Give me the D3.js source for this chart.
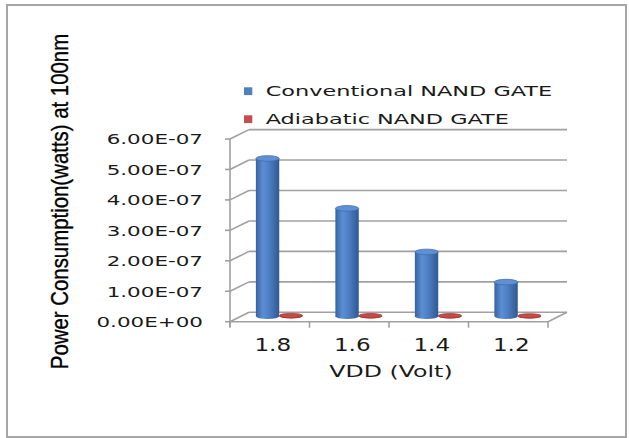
<!DOCTYPE html>
<html>
<head>
<meta charset="utf-8">
<script src="https://cdn.jsdelivr.net/npm/d3@7"></script>
<style>
  html, body { margin: 0; padding: 0; background: #fff; }
  svg { display: block; }
</style>
</head>
<body>
<svg id="chart" width="629" height="438"></svg>
<script>
// Supply voltage categories (x axis)
const categories = ["1.8", "1.6", "1.4", "1.2"];
// Power consumption in watts at 100nm
const conventional = [5.18e-7, 3.54e-7, 2.11e-7, 1.12e-7];
const adiabatic = [2.0e-9, 1.6e-9, 1.3e-9, 1.0e-9];
const seriesNames = ["Conventional NAND GATE", "Adiabatic NAND GATE"];
const yTickValues = [0, 1e-7, 2e-7, 3e-7, 4e-7, 5e-7, 6e-7];
const yTickLabels = ["0.00E+00", "1.00E-07", "2.00E-07", "3.00E-07", "4.00E-07", "5.00E-07", "6.00E-07"];
const xTitle = "VDD (Volt)";
const yTitle = "Power Consumption(watts) at 100nm";

const series = [conventional, adiabatic];
const colors = ["#4f81bd", "#c0504d"];

const svg = d3.select("#chart");

// plot frame (front plane) and the depth offset of the back wall
const front = { left: 230, right: 548, top: 139, bottom: 321.7 };
const depth = { dx: 19, dy: -9.4 };
const barDepth = { dx: 9.5, dy: -5.5 };
const gridColor = "#a0a0a0";

const y = d3.scaleLinear().domain([0, 6e-7]).range([front.bottom, front.top]);
const x = d3.scaleBand().domain(categories).range([front.left, front.right]);
const s = d3.scaleBand().domain(d3.range(series.length)).range([0, x.bandwidth()])
  .paddingInner(0).paddingOuter(0.7);

// text placed at (tx, ty) and widened horizontally by sx
function wideText(parent, tx, ty, str, opt) {
  return parent.append("text")
    .attr("transform", `translate(${tx},${ty}) scale(${opt.sx},1)`)
    .attr("text-anchor", opt.anchor || "start")
    .attr("dy", opt.dy || null)
    .attr("font-family", opt.family || "DejaVu Sans")
    .attr("font-size", opt.size)
    .attr("fill", opt.fill || "#1a1a1a")
    .text(str);
}

// outer border
svg.append("rect")
  .attr("x", 7).attr("y", 5).attr("width", 619).attr("height", 432)
  .attr("fill", "#fff").attr("stroke", "#a6a6a6").attr("stroke-width", 2);

const defs = svg.append("defs");
const gBlue = defs.append("linearGradient").attr("id", "cylBlue")
  .attr("x1", 0).attr("x2", 1).attr("y1", 0).attr("y2", 0);
[["0%", "#38629f"], ["30%", "#5b8ed4"], ["55%", "#4f80c4"], ["100%", "#315892"]]
  .forEach(([o, c]) => gBlue.append("stop").attr("offset", o).attr("stop-color", c));
const gRed = defs.append("linearGradient").attr("id", "cylRed")
  .attr("x1", 0).attr("x2", 1).attr("y1", 0).attr("y2", 0);
[["0%", "#9e2b28"], ["35%", "#c8443f"], ["100%", "#a02c29"]]
  .forEach(([o, c]) => gRed.append("stop").attr("offset", o).attr("stop-color", c));

// walls: back gridlines and left-wall diagonals
const grid = svg.append("g").attr("stroke", gridColor).attr("stroke-width", 1.6).attr("fill", "none");
grid.selectAll("line.back").data(yTickValues).join("line")
  .attr("x1", front.left + depth.dx).attr("x2", front.right + depth.dx)
  .attr("y1", d => y(d) + depth.dy).attr("y2", d => y(d) + depth.dy);
grid.selectAll("line.side").data(yTickValues).join("line")
  .attr("x1", front.left).attr("y1", d => y(d))
  .attr("x2", front.left + depth.dx).attr("y2", d => y(d) + depth.dy);
// floor front and right edges
grid.append("line")
  .attr("x1", front.left).attr("x2", front.right)
  .attr("y1", y(0)).attr("y2", y(0));
grid.append("line")
  .attr("x1", front.right).attr("y1", y(0))
  .attr("x2", front.right + depth.dx).attr("y2", y(0) + depth.dy);
// vertical value axis
grid.append("line")
  .attr("x1", front.left).attr("x2", front.left)
  .attr("y1", y(6e-7)).attr("y2", y(0) + 5);
grid.selectAll("line.ytick").data(yTickValues).join("line")
  .attr("x1", front.left - 5).attr("x2", front.left)
  .attr("y1", d => y(d)).attr("y2", d => y(d));
// category ticks
const catEdges = categories.map(c => x(c)).concat([front.right]);
grid.selectAll("line.xtick").data(catEdges).join("line")
  .attr("x1", d => d).attr("x2", d => d)
  .attr("y1", y(0)).attr("y2", y(0) + 6);

// cylinders
const bars = svg.append("g");
categories.forEach((c, ci) => {
  series.forEach((vals, si) => {
    const v = vals[ci];
    const w = s.bandwidth();
    const cx = x(c) + s(si) + w / 2 + barDepth.dx;
    const rx = w / 2;
    const ry = si === 0 ? 2.8 : 2.2;
    const yb = y(0) + barDepth.dy;
    const yt = y(v) + barDepth.dy;
    const g = bars.append("g");
    g.append("path")
      .attr("d", `M${cx - rx},${yt} L${cx - rx},${yb} A${rx},${ry} 0 0 0 ${cx + rx},${yb} L${cx + rx},${yt} Z`)
      .attr("fill", si === 0 ? "url(#cylBlue)" : "url(#cylRed)");
    g.append("ellipse")
      .attr("cx", cx).attr("cy", yt).attr("rx", rx).attr("ry", ry)
      .attr("fill", si === 0 ? "#5f90d6" : "#c64a45")
      .attr("stroke", si === 0 ? "#3f6cae" : "#a63530").attr("stroke-width", 0.8);
  });
});

// value labels
const yl = svg.append("g");
yTickValues.forEach((d, i) => {
  wideText(yl, 203, y(d), yTickLabels[i], { sx: 1.45, size: 14.8, anchor: "end", dy: "0.36em" });
});

// category labels
const xl = svg.append("g");
categories.forEach(c => {
  wideText(xl, x(c) + x.bandwidth() / 2 + 3, 351, c, { sx: 1.36, size: 17, anchor: "middle" });
});

// x axis title
wideText(svg, 391, 377, xTitle, { sx: 1.48, size: 16, anchor: "middle" });

// y axis title
svg.append("text")
  .attr("transform", "translate(68,201.5) scale(1.15,1) rotate(-90)")
  .attr("text-anchor", "middle")
  .attr("font-family", "'Liberation Sans', Arial, sans-serif")
  .attr("font-size", 20.4).attr("fill", "#000")
  .attr("stroke", "#000").attr("stroke-width", 0.3)
  .text(yTitle);

// legend
const legend = svg.append("g");
const legendRows = [95.5, 123.5];
seriesNames.forEach((name, i) => {
  legend.append("rect")
    .attr("x", 244).attr("y", legendRows[i] - 8.2).attr("width", 8.3).attr("height", 7.8)
    .attr("fill", colors[i]);
  wideText(legend, 265.7, legendRows[i], name, { sx: 1.6, size: 14 });
});
</script>
</body>
</html>
